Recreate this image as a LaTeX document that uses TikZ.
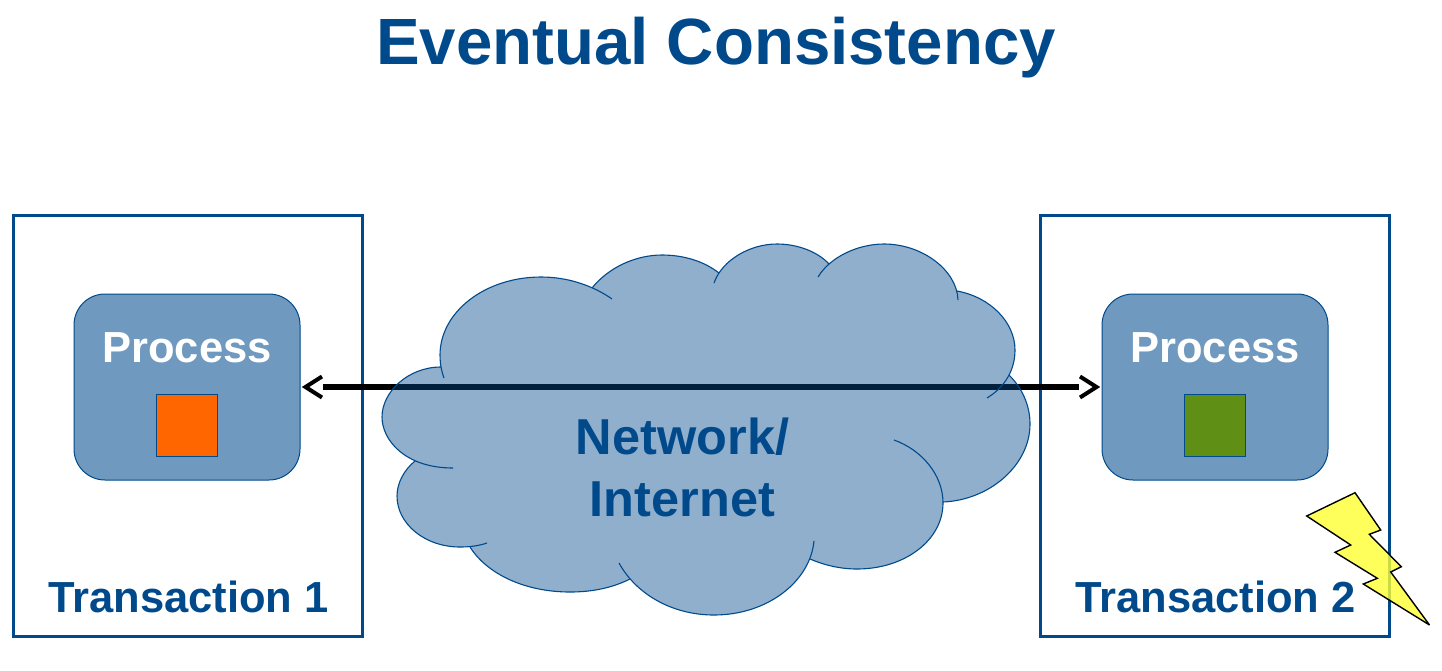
\documentclass[tikz,border=0pt]{standalone}
\usepackage{fontspec}
\setmainfont{Liberation Sans}
\definecolor{navy}{HTML}{004A8C}
\definecolor{procfill}{HTML}{6F99BF}
\definecolor{hot}{HTML}{FF6600}
\definecolor{leaf}{HTML}{5F8F14}
\definecolor{bolt}{HTML}{FFFF33}
\tikzset{
  txbox/.style={draw=navy,line width=3pt,minimum width=349pt,minimum height=421pt,inner sep=0pt,outer sep=0pt},
  procbox/.style={draw=navy,line width=1pt,fill=procfill,rounded corners=31pt,minimum width=226pt,minimum height=186pt,inner sep=0pt,outer sep=0pt},
  statebox/.style={draw=navy,line width=1pt,minimum width=61pt,minimum height=62pt,inner sep=0pt,outer sep=0pt},
  lbl/.style={anchor=base,text=navy,font=\bfseries,inner sep=0pt},
  lobe/.style={draw=navy,line width=1.1pt},
  link/.style={line width=6pt,draw=black,shorten >=23pt,shorten <=23pt},
  barb/.style={line width=4pt,draw=black,line join=miter}
}
\begin{document}
\begin{tikzpicture}[x=1pt,y=-1pt]
\useasboundingbox (0,0) rectangle (1442,670);
\fill[white] (0,0) rectangle (1442,670);
\node[lbl] (title) at (716,64.5) {\fontsize{65.4}{65.4}\selectfont Eventual Consistency};
\node[txbox] (t1) at (187.5,425.5) {};
\node[txbox] (t2) at (1215,425.5) {};
\node[procbox] (p1) at (187,387) {};
\node[procbox] (p2) at (1215,387) {};
\node[statebox,fill=hot] (s1) at (187,425) {};
\node[statebox,fill=leaf] (s2) at (1215,425) {};
\node[lbl,text=white] (pl1) at (187,362) {\fontsize{43.5}{43.5}\selectfont Process};
\node[lbl,text=white] (pl2) at (1215,362) {\fontsize{43.5}{43.5}\selectfont Process};
\node[lbl] (tl1) at (188.5,612) {\fontsize{43.5}{43.5}\selectfont Transaction 1};
\node[lbl] (tl2) at (1215.5,612) {\fontsize{43.5}{43.5}\selectfont Transaction 2};
\draw[link] (p1.east) -- (p2.west);
\draw[barb] ([shift={(22,-10.5)}]p1.east) -- ([xshift=5.5]p1.east) -- ([shift={(22,10.5)}]p1.east);
\draw[barb] ([shift={(-22,-10.5)}]p2.west) -- ([xshift=-5.5]p2.west) -- ([shift={(-22,10.5)}]p2.west);
% cloud fill: all lobes in order, one path
\fill[navy,opacity=.44]
 (444,378) .. controls (441,370) and (440,362) .. (440,355) .. controls (440,312) and (485,277) .. (541,277) .. controls (567,277) and (592,285) .. (612,299)
 -- (592,288) .. controls (608,268) and (635,255) .. (662,255) .. controls (685,255) and (705,262) .. (719,273)
 -- (714,283) .. controls (722,260) and (750,244) .. (777,244) .. controls (798,244) and (818,252) .. (829,264)
 -- (818,277) .. controls (830,257) and (858,244) .. (884,244) .. controls (922,244) and (957,270) .. (958,300)
 -- (957,291) .. controls (990,297) and (1015,322) .. (1015,350) .. controls (1015,370) and (1005,387) .. (987,398)
 -- (1009,375) .. controls (1022,388) and (1030,405) .. (1030,424) .. controls (1030,465) and (990,500) .. (943,502)
 -- (894,440) .. controls (922,450) and (943,475) .. (943,503) .. controls (943,540) and (905,569) .. (857,569) .. controls (840,569) and (824,565) .. (810,559)
 -- (814,541) .. controls (810,582) and (767,615) .. (714,615) .. controls (672,615) and (636,594) .. (619,563)
 -- (630,579) .. controls (612,588) and (592,592) .. (570,592) .. controls (525,592) and (487,574) .. (470,547)
 -- (487,543) .. controls (478,546) and (469,547) .. (460,547) .. controls (425,547) and (397,524) .. (397,496) .. controls (397,483) and (404,470) .. (415,461)
 -- (453,468) .. controls (405,468) and (382,440) .. (382,417) .. controls (382,392) and (408,367) .. (441,367) -- cycle;
\draw[lobe] (444,378) .. controls (441,370) and (440,362) .. (440,355) .. controls (440,312) and (485,277) .. (541,277) .. controls (567,277) and (592,285) .. (612,299);
\draw[lobe] (592,288) .. controls (608,268) and (635,255) .. (662,255) .. controls (685,255) and (705,262) .. (719,273);
\draw[lobe] (714,283) .. controls (722,260) and (750,244) .. (777,244) .. controls (798,244) and (818,252) .. (829,264);
\draw[lobe] (818,277) .. controls (830,257) and (858,244) .. (884,244) .. controls (922,244) and (957,270) .. (958,300);
\draw[lobe] (957,291) .. controls (990,297) and (1015,322) .. (1015,350) .. controls (1015,370) and (1005,387) .. (987,398);
\draw[lobe] (1009,375) .. controls (1022,388) and (1030,405) .. (1030,424) .. controls (1030,465) and (990,500) .. (943,502);
\draw[lobe] (894,440) .. controls (922,450) and (943,475) .. (943,503) .. controls (943,540) and (905,569) .. (857,569) .. controls (840,569) and (824,565) .. (810,559);
\draw[lobe] (814,541) .. controls (810,582) and (767,615) .. (714,615) .. controls (672,615) and (636,594) .. (619,563);
\draw[lobe] (630,579) .. controls (612,588) and (592,592) .. (570,592) .. controls (525,592) and (487,574) .. (470,547);
\draw[lobe] (487,543) .. controls (478,546) and (469,547) .. (460,547) .. controls (425,547) and (397,524) .. (397,496) .. controls (397,483) and (404,470) .. (415,461);
\draw[lobe] (453,468) .. controls (405,468) and (382,440) .. (382,417) .. controls (382,392) and (408,367) .. (441,367);
\node[lbl] (net1) at (682.5,454) {\fontsize{50.5}{50.5}\selectfont Network/};
\node[lbl] (net2) at (682.5,516) {\fontsize{50.5}{50.5}\selectfont Internet};
% lightning
\path[fill=bolt,fill opacity=.8,draw=black,line width=1.4pt,line join=miter,miter limit=5] (1355,492.7) -- (1380.7,530) -- (1369.3,534.3) -- (1401.3,566.7) -- (1390.7,572) -- (1429.5,625) -- (1363.3,584) -- (1377.3,578.3) -- (1335,552.3) -- (1350.7,545) -- (1306.7,516) -- cycle;
\end{tikzpicture}
\end{document}
